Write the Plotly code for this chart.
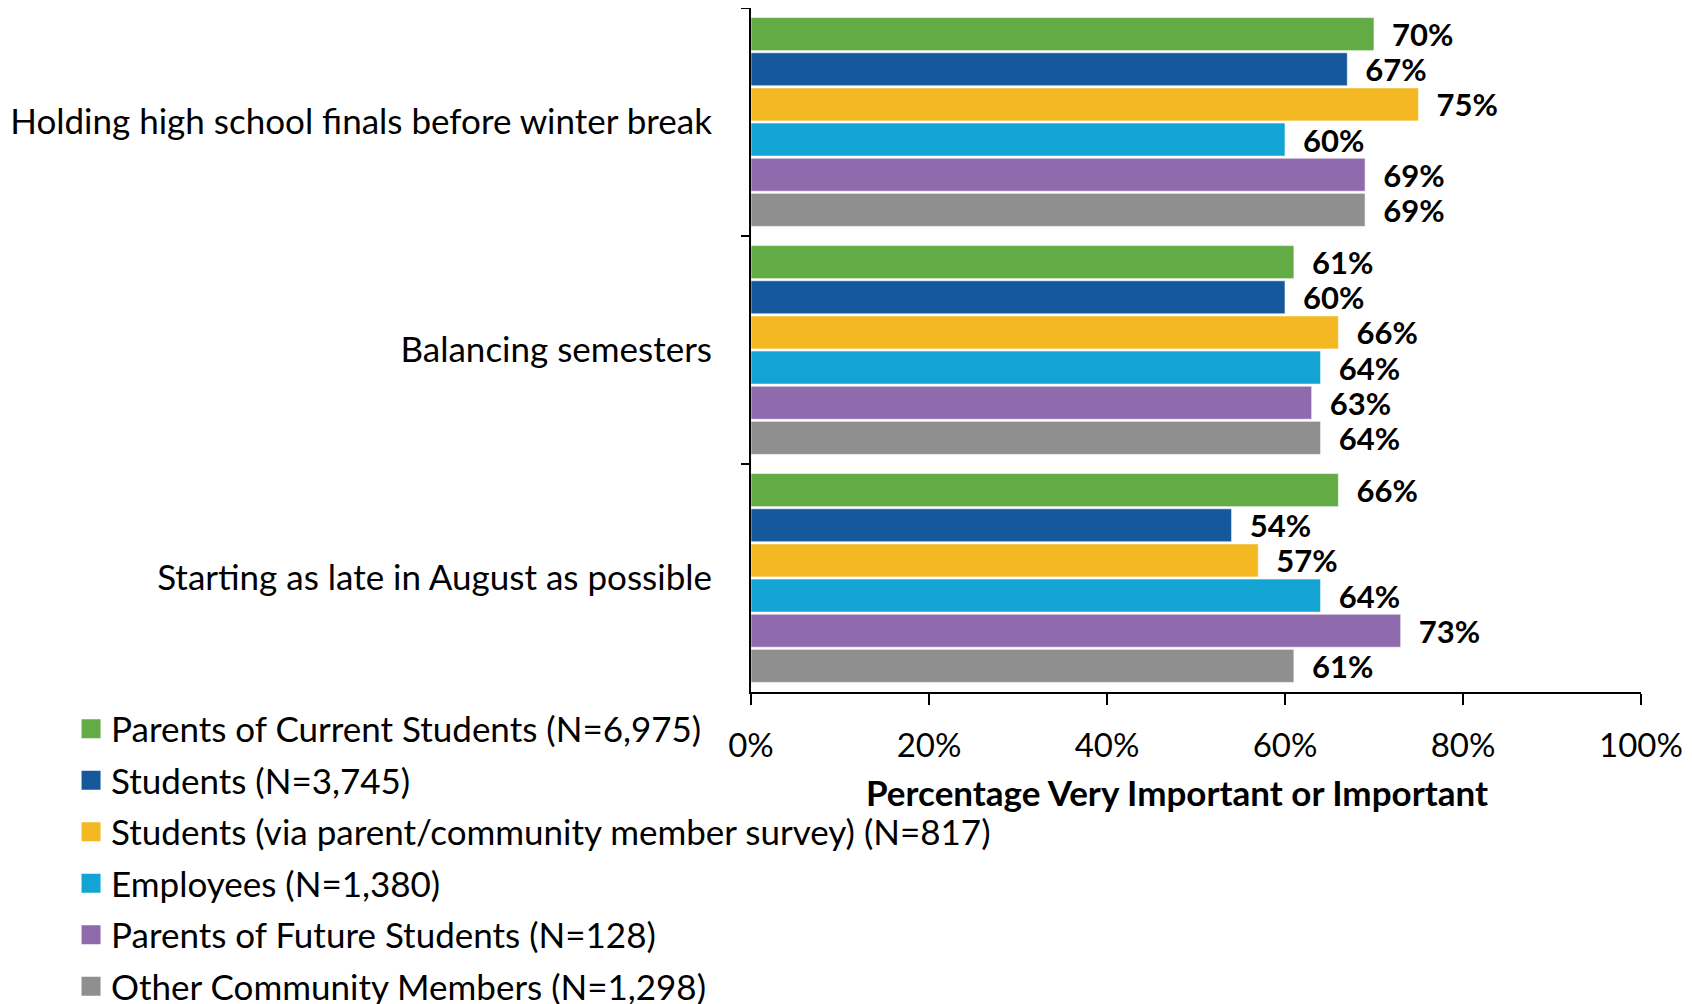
import plotly.graph_objects as go

# Data
categories = ['Holding high school finals before winter break',
              'Balancing semesters',
              'Starting as late in August as possible']

groups = ['Parents of Current Students (N=6,975)',
          'Students (N=3,745)',
          'Students (via parent/community member survey) (N=817)',
          'Employees (N=1,380)',
          'Parents of Future Students (N=128)',
          'Other Community Members (N=1,298)']

parents_current = [70, 61, 66]
students = [67, 60, 54]
students_via_survey = [75, 66, 57]
employees = [60, 64, 64]
parents_future = [69, 63, 73]
other_community = [69, 64, 61]

colors = ['#63AC45', '#15589C', '#F4B823', '#13A4D3', '#8F6AAC', '#8F8F8F']

FONT = 'Lato'
FSIZE = 35

fig = go.Figure()
series = [parents_current, students, students_via_survey,
          employees, parents_future, other_community]
for name, vals, col in zip(groups, series, colors):
    fig.add_trace(go.Bar(y=categories, x=vals, name=name, orientation='h',
                         marker=dict(color=col, line=dict(color='rgba(255,255,255,0.6)', width=1)),
                         text=[f'{v}%' for v in vals],
                         texttemplate='  %{text}',
                         textposition='outside', constraintext='none',
                         textfont=dict(family=FONT, size=31, color='black', weight='bold'),
                         cliponaxis=False, showlegend=False))

# legend entries with larger square swatches
for name, col in zip(groups, colors):
    fig.add_trace(go.Scatter(x=[None], y=[None], mode='markers', name=name,
                             legendgroup=name,
                             marker=dict(symbol='square', size=16, color=col,
                                         line=dict(color=col, width=3))))

fig.update_layout(
    width=1692, height=1004,
    barmode='group', bargap=0.075, bargroupgap=0.06,
    plot_bgcolor='white', paper_bgcolor='white',
    font=dict(family=FONT, size=FSIZE, color='black'),
    margin=dict(l=743, r=59, t=0, b=320, autoexpand=False),
    showlegend=True,
    legend=dict(x=-0.764, y=-0.011, xanchor='left', yanchor='top',
                bgcolor='rgba(0,0,0,0)',
                traceorder='grouped', font=dict(size=FSIZE, color='black'),
                itemwidth=30, tracegroupgap=3),
    annotations=[dict(text='<b>Percentage Very Important or Important</b>',
                      xref='paper', yref='paper', x=0.479, y=-0.146,
                      xanchor='center', yanchor='middle', showarrow=False,
                      font=dict(size=FSIZE))],
)

fig.update_xaxes(range=[0, 100], tickvals=[0, 20, 40, 60, 80, 100],
                 ticktext=['0%', '20%', '40%', '60%', '80%', '100%'],
                 tickfont=dict(size=33),
                 showgrid=False, zeroline=False,
                 showline=True, linecolor='black', linewidth=2,
                 ticks='outside', ticklen=11, tickwidth=2, tickcolor='black',
                 ticklabelstandoff=12)

fig.update_yaxes(autorange='reversed', showgrid=False,
                 showline=True, linecolor='black', linewidth=2,
                 ticks='outside', ticklen=8, tickwidth=2, tickcolor='black',
                 tickson='boundaries', ticklabelstandoff=30)

fig.write_html('out.html')
